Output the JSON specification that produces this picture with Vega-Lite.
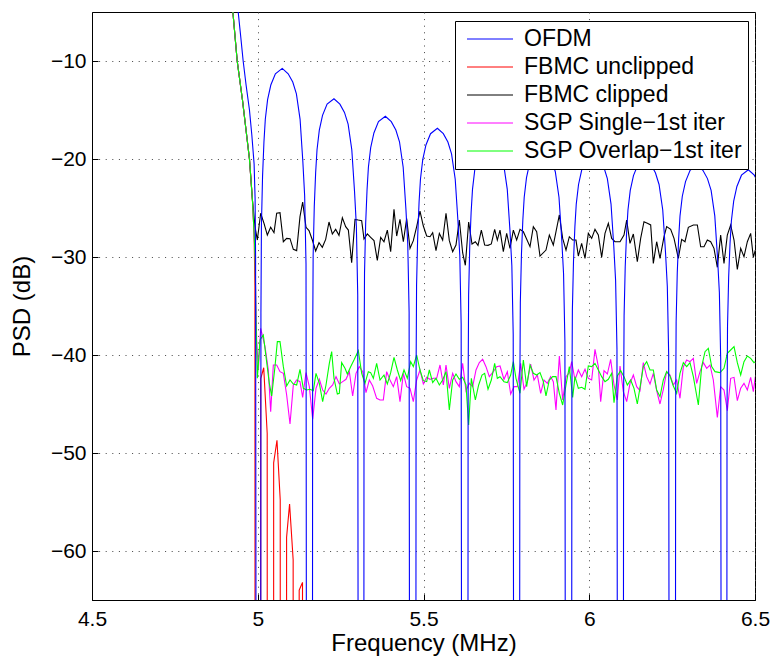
{
  "$schema": "https://vega.github.io/schema/vega-lite/v6.json",
  "autosize": {"type": "none"},
  "padding": {"left": 92, "top": 12, "right": 17, "bottom": 62},
  "width": 663,
  "height": 588,
  "background": "white",
  "config": {
    "view": {"stroke": "black", "strokeWidth": 1},
    "axis": {
      "labelFont": "Liberation Sans", "titleFont": "Liberation Sans",
      "labelFontSize": 21, "titleFontSize": 24, "titleFontWeight": "normal",
      "labelColor": "black", "titleColor": "black",
      "domainColor": "black", "tickColor": "black",
      "grid": true, "gridDash": [1, 5.6], "gridColor": "#444", "gridWidth": 1,
      "ticks": true, "tickSize": -6
    },
    "legend": {
      "orient": "none", "legendX": 363, "legendY": 9,
      "strokeColor": "black", "fillColor": "white", "padding": 6,
      "symbolType": "M-2,0H2", "symbolSize": 529, "symbolStrokeWidth": 1,
      "symbolOffset": 17,
      "labelFont": "Liberation Sans", "labelFontSize": 23, "labelColor": "black",
      "labelLimit": 400, "labelOffset": 22, "rowPadding": 4, "title": null
    }
  },
  "data": {"values": [
      {"s":"r","f":4.90,"p":3},{"s":"r","f":4.918,"p":-3},{"s":"r","f":4.925,"p":-5},{"s":"r","f":4.938,"p":-10},{"s":"r","f":4.954,"p":-14},{"s":"r","f":4.975,"p":-20},{"s":"r","f":4.984,"p":-24.2},{"s":"r","f":4.989,"p":-27.6},{"s":"r","f":4.9915,"p":-33},{"s":"r","f":4.992,"p":-90},
      {"s":"r","f":5.0088,"p":-90},{"s":"r","f":5.009,"p":-42.4},{"s":"r","f":5.018,"p":-41.3},{"s":"r","f":5.0285,"p":-48},{"s":"r","f":5.0288,"p":-90},
      {"s":"r","f":5.0478,"p":-90},{"s":"r","f":5.048,"p":-51},{"s":"r","f":5.058,"p":-48.7},{"s":"r","f":5.0678,"p":-54.8},{"s":"r","f":5.068,"p":-90},
      {"s":"r","f":5.0868,"p":-90},{"s":"r","f":5.087,"p":-58.6},{"s":"r","f":5.096,"p":-55.2},{"s":"r","f":5.1068,"p":-60.9},{"s":"r","f":5.107,"p":-90},
      {"s":"r","f":5.1248,"p":-90},{"s":"r","f":5.125,"p":-64},{"s":"r","f":5.135,"p":-63.2},{"s":"r","f":5.1352,"p":-90},

      {"s":"k","f":4.90,"p":3},{"s":"k","f":4.918,"p":-3},{"s":"k","f":4.925,"p":-5},{"s":"k","f":4.938,"p":-10},{"s":"k","f":4.954,"p":-14},{"s":"k","f":4.975,"p":-20},{"s":"k","f":4.984,"p":-24.2},
      {"s":"k","f":4.9917,"p":-26.9},{"s":"k","f":4.9988,"p":-28.27},{"s":"k","f":5.0088,"p":-25.54},{"s":"k","f":5.0189,"p":-26.56},{"s":"k","f":5.0289,"p":-27.76},{"s":"k","f":5.039,"p":-26.97},{"s":"k","f":5.049,"p":-27.52},{"s":"k","f":5.0571,"p":-25.54},{"s":"k","f":5.0671,"p":-25.48},{"s":"k","f":5.0772,"p":-28.44},{"s":"k","f":5.0872,"p":-28.1},{"s":"k","f":5.0973,"p":-28.13},{"s":"k","f":5.1073,"p":-29.22},{"s":"k","f":5.1174,"p":-29.35},{"s":"k","f":5.1274,"p":-25.88},{"s":"k","f":5.1355,"p":-24.39},{"s":"k","f":5.1456,"p":-26.97},{"s":"k","f":5.1546,"p":-27.31},{"s":"k","f":5.1647,"p":-28.27},{"s":"k","f":5.1747,"p":-29.39},{"s":"k","f":5.1848,"p":-28.54},{"s":"k","f":5.1948,"p":-29.01},{"s":"k","f":5.2049,"p":-28.2},{"s":"k","f":5.2149,"p":-26.43},{"s":"k","f":5.225,"p":-27.65},{"s":"k","f":5.235,"p":-27.18},{"s":"k","f":5.2451,"p":-27.79},{"s":"k","f":5.2552,"p":-25.99},{"s":"k","f":5.2652,"p":-26.9},{"s":"k","f":5.2733,"p":-27.25},{"s":"k","f":5.2833,"p":-30.58},{"s":"k","f":5.2934,"p":-26.16},{"s":"k","f":5.3034,"p":-26.23},{"s":"k","f":5.3135,"p":-26.29},{"s":"k","f":5.3205,"p":-28.16},{"s":"k","f":5.3306,"p":-27.65},{"s":"k","f":5.3406,"p":-27.99},{"s":"k","f":5.3507,"p":-28.33},{"s":"k","f":5.3607,"p":-30.34},{"s":"k","f":5.3708,"p":-27.99},{"s":"k","f":5.3808,"p":-28.44},{"s":"k","f":5.3909,"p":-27.25},{"s":"k","f":5.401,"p":-29.46},{"s":"k","f":5.411,"p":-25.14},{"s":"k","f":5.4191,"p":-27.86},{"s":"k","f":5.4291,"p":-26.16},{"s":"k","f":5.4392,"p":-28.44},{"s":"k","f":5.4492,"p":-26.09},{"s":"k","f":5.4593,"p":-29.12},{"s":"k","f":5.4693,"p":-28.33},{"s":"k","f":5.4794,"p":-26.9},{"s":"k","f":5.4894,"p":-25.31},{"s":"k","f":5.4995,"p":-26.84},{"s":"k","f":5.5096,"p":-27.86},{"s":"k","f":5.5196,"p":-27.93},{"s":"k","f":5.5277,"p":-27.52},{"s":"k","f":5.5377,"p":-29.35},{"s":"k","f":5.5478,"p":-27.59},{"s":"k","f":5.5578,"p":-28.27},{"s":"k","f":5.5679,"p":-25.54},{"s":"k","f":5.5779,"p":-28.33},{"s":"k","f":5.588,"p":-29.46},{"s":"k","f":5.598,"p":-28.78},{"s":"k","f":5.6081,"p":-26.23},{"s":"k","f":5.6181,"p":-29.56},{"s":"k","f":5.6262,"p":-30.85},{"s":"k","f":5.6362,"p":-26.43},{"s":"k","f":5.6463,"p":-28.67},{"s":"k","f":5.6564,"p":-28.44},{"s":"k","f":5.6644,"p":-28.81},{"s":"k","f":5.6745,"p":-27.25},{"s":"k","f":5.6845,"p":-28.78},{"s":"k","f":5.6946,"p":-28.81},{"s":"k","f":5.7046,"p":-28.67},{"s":"k","f":5.7147,"p":-27.18},{"s":"k","f":5.7227,"p":-28.27},{"s":"k","f":5.7308,"p":-27.25},
      {"s":"k","f":5.7408,"p":-29.46},{"s":"k","f":5.7509,"p":-27.59},{"s":"k","f":5.7609,"p":-29.12},{"s":"k","f":5.771,"p":-27.25},{"s":"k","f":5.781,"p":-28.27},{"s":"k","f":5.7911,"p":-27.18},{"s":"k","f":5.8012,"p":-27.42},{"s":"k","f":5.8213,"p":-28.95},{"s":"k","f":5.8313,"p":-26.9},{"s":"k","f":5.8414,"p":-27.42},{"s":"k","f":5.8514,"p":-29.9},{"s":"k","f":5.8695,"p":-29.29},{"s":"k","f":5.8796,"p":-27.76},{"s":"k","f":5.8916,"p":-28.78},{"s":"k","f":5.9098,"p":-25.71},{"s":"k","f":5.9198,"p":-28.1},{"s":"k","f":5.9299,"p":-29.29},{"s":"k","f":5.9399,"p":-27.93},{"s":"k","f":5.95,"p":-28.27},{"s":"k","f":5.96,"p":-28.27},{"s":"k","f":5.9671,"p":-29.9},{"s":"k","f":5.9771,"p":-28.61},{"s":"k","f":5.9872,"p":-30.14},{"s":"k","f":5.9972,"p":-27.59},{"s":"k","f":6.0073,"p":-28.1},{"s":"k","f":6.0173,"p":-27.18},{"s":"k","f":6.0274,"p":-27.76},{"s":"k","f":6.0375,"p":-30.03},{"s":"k","f":6.0475,"p":-27.59},{"s":"k","f":6.0576,"p":-26.56},{"s":"k","f":6.0676,"p":-28.1},{"s":"k","f":6.0777,"p":-28.44},{"s":"k","f":6.0928,"p":-28.44},{"s":"k","f":6.1048,"p":-27.76},{"s":"k","f":6.1129,"p":-26.23},{"s":"k","f":6.1229,"p":-28.61},{"s":"k","f":6.133,"p":-27.65},{"s":"k","f":6.145,"p":-30.48},{"s":"k","f":6.1551,"p":-28.1},{"s":"k","f":6.1651,"p":-26.4},{"s":"k","f":6.1752,"p":-26.56},{"s":"k","f":6.1853,"p":-26.73},{"s":"k","f":6.1933,"p":-30.65},{"s":"k","f":6.2034,"p":-28.44},{"s":"k","f":6.2134,"p":-30.14},{"s":"k","f":6.2255,"p":-27.93},{"s":"k","f":6.2335,"p":-26.9},{"s":"k","f":6.2456,"p":-27.18},{"s":"k","f":6.2557,"p":-28.1},{"s":"k","f":6.2687,"p":-30.14},{"s":"k","f":6.2788,"p":-28.2},{"s":"k","f":6.2888,"p":-28.44},{"s":"k","f":6.2989,"p":-26.97},{"s":"k","f":6.314,"p":-26.73},{"s":"k","f":6.3261,"p":-26.73},{"s":"k","f":6.3361,"p":-28.95},{"s":"k","f":6.3462,"p":-28.95},{"s":"k","f":6.3562,"p":-28.27},{"s":"k","f":6.3663,"p":-28.44},{"s":"k","f":6.3763,"p":-29.12},{"s":"k","f":6.3864,"p":-31.05},{"s":"k","f":6.3964,"p":-27.76},{"s":"k","f":6.4065,"p":-30.65},{"s":"k","f":6.4165,"p":-27.76},{"s":"k","f":6.4266,"p":-26.73},{"s":"k","f":6.4367,"p":-28.27},{"s":"k","f":6.4467,"p":-31.26},{"s":"k","f":6.4568,"p":-29.12},{"s":"k","f":6.4668,"p":-29.97},{"s":"k","f":6.4769,"p":-28.44},{"s":"k","f":6.4869,"p":-27.59},{"s":"k","f":6.495,"p":-30.03},{"s":"k","f":6.501,"p":-29.29},

      {"s":"m","f":4.90,"p":3},{"s":"m","f":4.918,"p":-3},{"s":"m","f":4.925,"p":-5},{"s":"m","f":4.938,"p":-10},{"s":"m","f":4.954,"p":-14},{"s":"m","f":4.975,"p":-20},{"s":"m","f":4.984,"p":-24.2},{"s":"m","f":4.989,"p":-27.6},{"s":"m","f":4.992,"p":-30},{"s":"m","f":4.994,"p":-34.4},{"s":"m","f":4.9967,"p":-38.5},{"s":"m","f":5.0018,"p":-41.5},
      {"s":"m","f":5.0088,"p":-37.28},{"s":"m","f":5.0219,"p":-39.15},{"s":"m","f":5.0319,"p":-41.53},{"s":"m","f":5.039,"p":-45.78},{"s":"m","f":5.047,"p":-41.02},{"s":"m","f":5.0571,"p":-41.02},{"s":"m","f":5.0671,"p":-41.7},{"s":"m","f":5.0772,"p":-41.87},{"s":"m","f":5.0872,"p":-44.08},{"s":"m","f":5.0973,"p":-47.04},{"s":"m","f":5.1073,"p":-43.06},{"s":"m","f":5.1174,"p":-42.55},{"s":"m","f":5.1274,"p":-42.72},{"s":"m","f":5.1355,"p":-44.32},{"s":"m","f":5.1456,"p":-41.8},{"s":"m","f":5.1556,"p":-43.23},{"s":"m","f":5.1657,"p":-46.56},{"s":"m","f":5.1757,"p":-43.4},{"s":"m","f":5.1858,"p":-42.48},{"s":"m","f":5.1958,"p":-43.57},{"s":"m","f":5.2059,"p":-43.98},{"s":"m","f":5.2159,"p":-43.4},{"s":"m","f":5.226,"p":-43.06},{"s":"m","f":5.2361,"p":-42.21},{"s":"m","f":5.2461,"p":-42.96},{"s":"m","f":5.2562,"p":-42.72},{"s":"m","f":5.2662,"p":-42.48},{"s":"m","f":5.2763,"p":-41.7},{"s":"m","f":5.2863,"p":-44.18},{"s":"m","f":5.2964,"p":-41.87},{"s":"m","f":5.3064,"p":-41.19},{"s":"m","f":5.3165,"p":-41.7},{"s":"m","f":5.3265,"p":-43.84},{"s":"m","f":5.3366,"p":-42.55},{"s":"m","f":5.3467,"p":-43.16},{"s":"m","f":5.3587,"p":-44.42},{"s":"m","f":5.3688,"p":-44.59},{"s":"m","f":5.3788,"p":-44.59},{"s":"m","f":5.3889,"p":-41.7},{"s":"m","f":5.3989,"p":-42.55},{"s":"m","f":5.409,"p":-43.23},{"s":"m","f":5.4191,"p":-42.21},{"s":"m","f":5.4291,"p":-44.76},{"s":"m","f":5.4392,"p":-41.87},{"s":"m","f":5.4492,"p":-43.23},{"s":"m","f":5.4593,"p":-43.4},{"s":"m","f":5.4693,"p":-44.76},{"s":"m","f":5.4794,"p":-42.55},{"s":"m","f":5.4894,"p":-41.53},{"s":"m","f":5.4995,"p":-42.96},{"s":"m","f":5.5096,"p":-42.28},{"s":"m","f":5.5196,"p":-42.48},{"s":"m","f":5.5297,"p":-42.38},{"s":"m","f":5.5397,"p":-42.38},{"s":"m","f":5.5498,"p":-41.02},{"s":"m","f":5.5598,"p":-43.06},{"s":"m","f":5.5679,"p":-41.02},{"s":"m","f":5.5779,"p":-43.4},{"s":"m","f":5.588,"p":-41.87},{"s":"m","f":5.598,"p":-42.72},{"s":"m","f":5.6081,"p":-43.23},{"s":"m","f":5.6181,"p":-40.85},{"s":"m","f":5.6282,"p":-43.64},{"s":"m","f":5.6383,"p":-42.89},{"s":"m","f":5.6483,"p":-43.23},{"s":"m","f":5.6584,"p":-41.53},{"s":"m","f":5.6684,"p":-40.78},{"s":"m","f":5.6785,"p":-40.44},{"s":"m","f":5.6885,"p":-41.19},{"s":"m","f":5.6986,"p":-42.21},{"s":"m","f":5.7107,"p":-41.7},{"s":"m","f":5.7207,"p":-41.19},{"s":"m","f":5.7308,"p":-41.12},
      {"s":"m","f":5.7428,"p":-42.48},{"s":"m","f":5.7529,"p":-41.7},{"s":"m","f":5.763,"p":-43.98},{"s":"m","f":5.773,"p":-43.23},{"s":"m","f":5.7831,"p":-43.23},{"s":"m","f":5.7931,"p":-40.85},{"s":"m","f":5.8032,"p":-43.5},{"s":"m","f":5.8132,"p":-42.72},{"s":"m","f":5.8233,"p":-40.92},{"s":"m","f":5.8333,"p":-42.55},{"s":"m","f":5.8434,"p":-42.04},{"s":"m","f":5.8535,"p":-43.91},{"s":"m","f":5.8635,"p":-42.55},{"s":"m","f":5.8736,"p":-42.89},{"s":"m","f":5.8836,"p":-42.21},{"s":"m","f":5.8917,"p":-42.72},{"s":"m","f":5.8997,"p":-45.61},{"s":"m","f":5.9098,"p":-40.1},{"s":"m","f":5.9198,"p":-44.59},{"s":"m","f":5.9299,"p":-42.21},{"s":"m","f":5.9399,"p":-41.8},{"s":"m","f":5.947,"p":-40.68},{"s":"m","f":5.957,"p":-42.55},{"s":"m","f":5.9671,"p":-41.53},{"s":"m","f":5.9771,"p":-42.21},{"s":"m","f":5.9872,"p":-41.46},{"s":"m","f":5.9972,"p":-42.38},{"s":"m","f":6.0073,"p":-42.55},{"s":"m","f":6.0173,"p":-39.42},{"s":"m","f":6.0274,"p":-41.19},{"s":"m","f":6.0345,"p":-44.76},{"s":"m","f":6.0445,"p":-41.6},{"s":"m","f":6.0546,"p":-41.94},{"s":"m","f":6.0646,"p":-40.44},{"s":"m","f":6.0747,"p":-43.06},{"s":"m","f":6.0847,"p":-44.59},{"s":"m","f":6.0928,"p":-41.12},{"s":"m","f":6.1028,"p":-43.74},{"s":"m","f":6.1129,"p":-44.76},{"s":"m","f":6.1229,"p":-42.89},{"s":"m","f":6.133,"p":-42.04},{"s":"m","f":6.1431,"p":-43.23},{"s":"m","f":6.1531,"p":-43.64},{"s":"m","f":6.1631,"p":-40.78},{"s":"m","f":6.1732,"p":-42.21},{"s":"m","f":6.1833,"p":-42.96},{"s":"m","f":6.1933,"p":-41.87},{"s":"m","f":6.2034,"p":-43.64},{"s":"m","f":6.2134,"p":-45.0},{"s":"m","f":6.2235,"p":-43.5},{"s":"m","f":6.2335,"p":-41.7},{"s":"m","f":6.2436,"p":-42.04},{"s":"m","f":6.2536,"p":-43.06},{"s":"m","f":6.2637,"p":-42.55},{"s":"m","f":6.2737,"p":-44.42},{"s":"m","f":6.2838,"p":-41.19},{"s":"m","f":6.2939,"p":-40.51},{"s":"m","f":6.3039,"p":-40.68},{"s":"m","f":6.314,"p":-40.34},{"s":"m","f":6.324,"p":-42.89},{"s":"m","f":6.3341,"p":-41.7},{"s":"m","f":6.3442,"p":-40.78},{"s":"m","f":6.3542,"p":-41.36},{"s":"m","f":6.3643,"p":-41.02},{"s":"m","f":6.3743,"p":-42.55},{"s":"m","f":6.3864,"p":-46.36},{"s":"m","f":6.3964,"p":-43.23},{"s":"m","f":6.4065,"p":-43.57},{"s":"m","f":6.4165,"p":-45.68},{"s":"m","f":6.4266,"p":-42.38},{"s":"m","f":6.4367,"p":-42.28},{"s":"m","f":6.4467,"p":-44.66},{"s":"m","f":6.4568,"p":-43.4},{"s":"m","f":6.4668,"p":-42.89},{"s":"m","f":6.4769,"p":-43.57},{"s":"m","f":6.4869,"p":-42.28},{"s":"m","f":6.495,"p":-43.74},{"s":"m","f":6.501,"p":-42.21},

      {"s":"g","f":4.90,"p":3},{"s":"g","f":4.918,"p":-3},{"s":"g","f":4.925,"p":-5},{"s":"g","f":4.938,"p":-10},{"s":"g","f":4.954,"p":-14},{"s":"g","f":4.975,"p":-20},{"s":"g","f":4.984,"p":-24.2},{"s":"g","f":4.989,"p":-27.6},{"s":"g","f":4.992,"p":-30},{"s":"g","f":4.9945,"p":-36},
      {"s":"g","f":4.9988,"p":-42.38},{"s":"g","f":5.0068,"p":-38.47},{"s":"g","f":5.0168,"p":-37.96},{"s":"g","f":5.0249,"p":-40.17},{"s":"g","f":5.0349,"p":-42.89},{"s":"g","f":5.042,"p":-44.18},{"s":"g","f":5.052,"p":-41.19},{"s":"g","f":5.0591,"p":-38.64},{"s":"g","f":5.0671,"p":-38.64},{"s":"g","f":5.0772,"p":-41.19},{"s":"g","f":5.0872,"p":-43.16},{"s":"g","f":5.0973,"p":-42.55},{"s":"g","f":5.1073,"p":-42.96},{"s":"g","f":5.1174,"p":-43.06},{"s":"g","f":5.1274,"p":-41.46},{"s":"g","f":5.1375,"p":-43.4},{"s":"g","f":5.1476,"p":-43.57},{"s":"g","f":5.1576,"p":-43.5},{"s":"g","f":5.1677,"p":-43.64},{"s":"g","f":5.1757,"p":-41.87},{"s":"g","f":5.1858,"p":-42.89},{"s":"g","f":5.1958,"p":-44.76},{"s":"g","f":5.2059,"p":-43.06},{"s":"g","f":5.2159,"p":-40.85},{"s":"g","f":5.223,"p":-39.66},{"s":"g","f":5.23,"p":-42.38},{"s":"g","f":5.2401,"p":-43.98},{"s":"g","f":5.2461,"p":-43.91},{"s":"g","f":5.2531,"p":-40.78},{"s":"g","f":5.2632,"p":-41.36},{"s":"g","f":5.2702,"p":-41.94},{"s":"g","f":5.2803,"p":-41.19},{"s":"g","f":5.2903,"p":-40.51},{"s":"g","f":5.3034,"p":-39.56},{"s":"g","f":5.3135,"p":-41.87},{"s":"g","f":5.3235,"p":-42.89},{"s":"g","f":5.3336,"p":-41.7},{"s":"g","f":5.3406,"p":-41.8},{"s":"g","f":5.3487,"p":-42.38},{"s":"g","f":5.3587,"p":-40.85},{"s":"g","f":5.3688,"p":-42.55},{"s":"g","f":5.3808,"p":-42.04},{"s":"g","f":5.3909,"p":-42.96},{"s":"g","f":5.401,"p":-41.8},{"s":"g","f":5.411,"p":-40.24},{"s":"g","f":5.4211,"p":-41.53},{"s":"g","f":5.4311,"p":-42.62},{"s":"g","f":5.4412,"p":-41.53},{"s":"g","f":5.4512,"p":-42.38},{"s":"g","f":5.4613,"p":-40.68},{"s":"g","f":5.4693,"p":-41.19},{"s":"g","f":5.4794,"p":-40.0},{"s":"g","f":5.4894,"p":-41.53},{"s":"g","f":5.4995,"p":-42.62},{"s":"g","f":5.5096,"p":-42.72},{"s":"g","f":5.5176,"p":-41.53},{"s":"g","f":5.5277,"p":-42.82},{"s":"g","f":5.5377,"p":-42.38},{"s":"g","f":5.5478,"p":-43.06},{"s":"g","f":5.5578,"p":-42.55},{"s":"g","f":5.5679,"p":-41.7},{"s":"g","f":5.5779,"p":-45.61},{"s":"g","f":5.588,"p":-42.55},{"s":"g","f":5.598,"p":-41.94},{"s":"g","f":5.6081,"p":-42.48},{"s":"g","f":5.6181,"p":-42.28},{"s":"g","f":5.6282,"p":-43.06},{"s":"g","f":5.6362,"p":-47.14},{"s":"g","f":5.6443,"p":-42.38},{"s":"g","f":5.6564,"p":-44.59},{"s":"g","f":5.6664,"p":-43.06},{"s":"g","f":5.6765,"p":-42.04},{"s":"g","f":5.6845,"p":-41.87},{"s":"g","f":5.6946,"p":-43.5},{"s":"g","f":5.7046,"p":-42.55},{"s":"g","f":5.7147,"p":-40.85},{"s":"g","f":5.7227,"p":-42.38},{"s":"g","f":5.7308,"p":-42.21},
      {"s":"g","f":5.7428,"p":-42.72},{"s":"g","f":5.7529,"p":-42.82},{"s":"g","f":5.763,"p":-42.04},{"s":"g","f":5.771,"p":-40.68},{"s":"g","f":5.779,"p":-42.38},{"s":"g","f":5.7911,"p":-43.91},{"s":"g","f":5.8012,"p":-40.51},{"s":"g","f":5.8112,"p":-43.23},{"s":"g","f":5.8213,"p":-41.02},{"s":"g","f":5.8313,"p":-41.87},{"s":"g","f":5.8414,"p":-42.04},{"s":"g","f":5.8514,"p":-41.8},{"s":"g","f":5.8615,"p":-42.72},{"s":"g","f":5.8695,"p":-44.18},{"s":"g","f":5.8796,"p":-42.55},{"s":"g","f":5.8896,"p":-42.21},{"s":"g","f":5.8997,"p":-42.21},{"s":"g","f":5.9098,"p":-43.91},{"s":"g","f":5.9198,"p":-45.1},{"s":"g","f":5.9299,"p":-43.06},{"s":"g","f":5.9399,"p":-41.19},{"s":"g","f":5.95,"p":-44.32},{"s":"g","f":5.957,"p":-42.21},{"s":"g","f":5.9671,"p":-43.4},{"s":"g","f":5.9771,"p":-43.3},{"s":"g","f":5.9872,"p":-43.5},{"s":"g","f":5.9972,"p":-41.12},{"s":"g","f":6.0073,"p":-41.19},{"s":"g","f":6.0173,"p":-40.85},{"s":"g","f":6.0274,"p":-41.53},{"s":"g","f":6.0375,"p":-42.21},{"s":"g","f":6.0475,"p":-42.72},{"s":"g","f":6.0576,"p":-42.48},{"s":"g","f":6.0676,"p":-41.87},{"s":"g","f":6.0747,"p":-44.86},{"s":"g","f":6.0847,"p":-42.14},{"s":"g","f":6.0948,"p":-41.6},{"s":"g","f":6.1048,"p":-42.21},{"s":"g","f":6.1149,"p":-43.06},{"s":"g","f":6.1249,"p":-42.55},{"s":"g","f":6.135,"p":-43.4},{"s":"g","f":6.145,"p":-45.0},{"s":"g","f":6.1551,"p":-42.89},{"s":"g","f":6.1631,"p":-41.19},{"s":"g","f":6.1732,"p":-40.68},{"s":"g","f":6.1833,"p":-41.53},{"s":"g","f":6.1933,"p":-41.53},{"s":"g","f":6.2034,"p":-43.57},{"s":"g","f":6.2134,"p":-44.25},{"s":"g","f":6.2235,"p":-42.55},{"s":"g","f":6.2335,"p":-41.7},{"s":"g","f":6.2436,"p":-42.14},{"s":"g","f":6.2536,"p":-43.16},{"s":"g","f":6.2637,"p":-43.91},{"s":"g","f":6.2737,"p":-41.87},{"s":"g","f":6.2838,"p":-40.78},{"s":"g","f":6.2939,"p":-41.19},{"s":"g","f":6.3039,"p":-40.78},{"s":"g","f":6.314,"p":-42.21},{"s":"g","f":6.3291,"p":-45.1},{"s":"g","f":6.3391,"p":-41.19},{"s":"g","f":6.3492,"p":-39.66},{"s":"g","f":6.3592,"p":-39.32},{"s":"g","f":6.3693,"p":-41.19},{"s":"g","f":6.3793,"p":-41.7},{"s":"g","f":6.3944,"p":-41.8},{"s":"g","f":6.4065,"p":-41.36},{"s":"g","f":6.4165,"p":-39.83},{"s":"g","f":6.4266,"p":-39.49},{"s":"g","f":6.4367,"p":-39.15},{"s":"g","f":6.4467,"p":-40.78},{"s":"g","f":6.4568,"p":-42.04},{"s":"g","f":6.4668,"p":-40.68},{"s":"g","f":6.4769,"p":-40.1},{"s":"g","f":6.4869,"p":-40.34},{"s":"g","f":6.497,"p":-40.78},{"s":"g","f":6.501,"p":-40.68},

      {"s":"b","f":4.90,"p":5},{"s":"b","f":4.92,"p":-1},{"s":"b","f":4.935,"p":-3.8},{"s":"b","f":4.941,"p":-5},{"s":"b","f":4.948,"p":-7.3},{"s":"b","f":4.956,"p":-10},{"s":"b","f":4.965,"p":-12.5},{"s":"b","f":4.975,"p":-15},{"s":"b","f":4.982,"p":-17.5},{"s":"b","f":4.989,"p":-20.5},{"s":"b","f":4.992,"p":-24},{"s":"b","f":4.9935,"p":-30},{"s":"b","f":4.995,"p":-80},{"s":"b","f":5.002,"p":-100},
      {"s":"b","f":5.009,"p":-80},{"s":"b","f":5.0096,"p":-35.75},{"s":"b","f":5.0111,"p":-26.75},{"s":"b","f":5.0145,"p":-21.75},{"s":"b","f":5.0187,"p":-18.25},{"s":"b","f":5.0228,"p":-15.95},{"s":"b","f":5.0297,"p":-13.95},{"s":"b","f":5.0394,"p":-12.45},{"s":"b","f":5.0532,"p":-11.3},{"s":"b","f":5.0739,"p":-10.75},{"s":"b","f":5.0918,"p":-11.3},{"s":"b","f":5.1056,"p":-12.15},{"s":"b","f":5.1166,"p":-13.35},{"s":"b","f":5.1277,"p":-15.95},{"s":"b","f":5.136,"p":-20.25},{"s":"b","f":5.1415,"p":-23.75},{"s":"b","f":5.1456,"p":-30.75},{"s":"b","f":5.147,"p":-80},
      {"s":"b","f":5.165,"p":-80},{"s":"b","f":5.1656,"p":-38.85},{"s":"b","f":5.1671,"p":-29.85},{"s":"b","f":5.1705,"p":-24.85},{"s":"b","f":5.1747,"p":-21.35},{"s":"b","f":5.1788,"p":-19.05},{"s":"b","f":5.1857,"p":-17.05},{"s":"b","f":5.1954,"p":-15.55},{"s":"b","f":5.2092,"p":-14.4},{"s":"b","f":5.2299,"p":-13.85},{"s":"b","f":5.2478,"p":-14.4},{"s":"b","f":5.2616,"p":-15.25},{"s":"b","f":5.2726,"p":-16.45},{"s":"b","f":5.2837,"p":-19.05},{"s":"b","f":5.292,"p":-23.35},{"s":"b","f":5.2975,"p":-26.85},{"s":"b","f":5.3016,"p":-33.85},{"s":"b","f":5.303,"p":-80},
      {"s":"b","f":5.32,"p":-80},{"s":"b","f":5.3206,"p":-40.64},{"s":"b","f":5.3221,"p":-31.64},{"s":"b","f":5.3255,"p":-26.64},{"s":"b","f":5.3297,"p":-23.14},{"s":"b","f":5.3338,"p":-20.84},{"s":"b","f":5.3407,"p":-18.84},{"s":"b","f":5.3504,"p":-17.34},{"s":"b","f":5.3642,"p":-16.19},{"s":"b","f":5.3849,"p":-15.64},{"s":"b","f":5.4028,"p":-16.19},{"s":"b","f":5.4166,"p":-17.04},{"s":"b","f":5.4276,"p":-18.24},{"s":"b","f":5.4387,"p":-20.84},{"s":"b","f":5.447,"p":-25.14},{"s":"b","f":5.4525,"p":-28.64},{"s":"b","f":5.4566,"p":-35.64},{"s":"b","f":5.458,"p":-80},
      {"s":"b","f":5.477,"p":-80},{"s":"b","f":5.4776,"p":-41.87},{"s":"b","f":5.4791,"p":-32.87},{"s":"b","f":5.4825,"p":-27.87},{"s":"b","f":5.4867,"p":-24.37},{"s":"b","f":5.4908,"p":-22.07},{"s":"b","f":5.4977,"p":-20.07},{"s":"b","f":5.5074,"p":-18.57},{"s":"b","f":5.5212,"p":-17.42},{"s":"b","f":5.5419,"p":-16.87},{"s":"b","f":5.5598,"p":-17.42},{"s":"b","f":5.5736,"p":-18.27},{"s":"b","f":5.5846,"p":-19.47},{"s":"b","f":5.5957,"p":-22.07},{"s":"b","f":5.604,"p":-26.37},{"s":"b","f":5.6095,"p":-29.87},{"s":"b","f":5.6136,"p":-36.87},{"s":"b","f":5.615,"p":-80},
      {"s":"b","f":5.634,"p":-80},{"s":"b","f":5.6346,"p":-42.9},{"s":"b","f":5.6361,"p":-33.9},{"s":"b","f":5.6395,"p":-28.9},{"s":"b","f":5.6437,"p":-25.4},{"s":"b","f":5.6478,"p":-23.1},{"s":"b","f":5.6547,"p":-21.1},{"s":"b","f":5.6644,"p":-19.6},{"s":"b","f":5.6782,"p":-18.45},{"s":"b","f":5.6989,"p":-17.9},{"s":"b","f":5.7168,"p":-18.45},{"s":"b","f":5.7306,"p":-19.3},{"s":"b","f":5.7416,"p":-20.5},{"s":"b","f":5.7527,"p":-23.1},{"s":"b","f":5.761,"p":-27.4},{"s":"b","f":5.7665,"p":-30.9},{"s":"b","f":5.7706,"p":-37.9},{"s":"b","f":5.772,"p":-80},
      {"s":"b","f":5.79,"p":-80},{"s":"b","f":5.7906,"p":-43.7},{"s":"b","f":5.7921,"p":-34.7},{"s":"b","f":5.7955,"p":-29.7},{"s":"b","f":5.7997,"p":-26.2},{"s":"b","f":5.8038,"p":-23.9},{"s":"b","f":5.8107,"p":-21.9},{"s":"b","f":5.8204,"p":-20.4},{"s":"b","f":5.8342,"p":-19.25},{"s":"b","f":5.8549,"p":-18.7},{"s":"b","f":5.8728,"p":-19.25},{"s":"b","f":5.8866,"p":-20.1},{"s":"b","f":5.8976,"p":-21.3},{"s":"b","f":5.9087,"p":-23.9},{"s":"b","f":5.917,"p":-28.2},{"s":"b","f":5.9225,"p":-31.7},{"s":"b","f":5.9266,"p":-38.7},{"s":"b","f":5.928,"p":-80},
      {"s":"b","f":5.947,"p":-80},{"s":"b","f":5.9476,"p":-44.4},{"s":"b","f":5.9491,"p":-35.4},{"s":"b","f":5.9525,"p":-30.4},{"s":"b","f":5.9567,"p":-26.9},{"s":"b","f":5.9608,"p":-24.6},{"s":"b","f":5.9677,"p":-22.6},{"s":"b","f":5.9774,"p":-21.1},{"s":"b","f":5.9912,"p":-19.95},{"s":"b","f":6.0119,"p":-19.4},{"s":"b","f":6.0298,"p":-19.95},{"s":"b","f":6.0436,"p":-20.8},{"s":"b","f":6.0546,"p":-22.0},{"s":"b","f":6.0657,"p":-24.6},{"s":"b","f":6.074,"p":-28.9},{"s":"b","f":6.0795,"p":-32.4},{"s":"b","f":6.0836,"p":-39.4},{"s":"b","f":6.085,"p":-80},
      {"s":"b","f":6.103,"p":-80},{"s":"b","f":6.1036,"p":-45},{"s":"b","f":6.1051,"p":-36},{"s":"b","f":6.1085,"p":-31},{"s":"b","f":6.1127,"p":-27.5},{"s":"b","f":6.1168,"p":-25.2},{"s":"b","f":6.1237,"p":-23.2},{"s":"b","f":6.1334,"p":-21.7},{"s":"b","f":6.1472,"p":-20.55},{"s":"b","f":6.1679,"p":-20},{"s":"b","f":6.1858,"p":-20.55},{"s":"b","f":6.1996,"p":-21.4},{"s":"b","f":6.2106,"p":-22.6},{"s":"b","f":6.2217,"p":-25.2},{"s":"b","f":6.23,"p":-29.5},{"s":"b","f":6.2355,"p":-33},{"s":"b","f":6.2396,"p":-40},{"s":"b","f":6.241,"p":-80},
      {"s":"b","f":6.26,"p":-80},{"s":"b","f":6.2606,"p":-45.6},{"s":"b","f":6.2621,"p":-36.6},{"s":"b","f":6.2655,"p":-31.6},{"s":"b","f":6.2697,"p":-28.1},{"s":"b","f":6.2738,"p":-25.8},{"s":"b","f":6.2807,"p":-23.8},{"s":"b","f":6.2904,"p":-22.3},{"s":"b","f":6.3042,"p":-21.15},{"s":"b","f":6.3249,"p":-20.6},{"s":"b","f":6.3428,"p":-21.15},{"s":"b","f":6.3566,"p":-22.0},{"s":"b","f":6.3676,"p":-23.2},{"s":"b","f":6.3787,"p":-25.8},{"s":"b","f":6.387,"p":-30.1},{"s":"b","f":6.3925,"p":-33.6},{"s":"b","f":6.3966,"p":-40.6},{"s":"b","f":6.398,"p":-80},
      {"s":"b","f":6.415,"p":-80},{"s":"b","f":6.4156,"p":-46.1},{"s":"b","f":6.4171,"p":-37.1},{"s":"b","f":6.4205,"p":-32.1},{"s":"b","f":6.4247,"p":-28.6},{"s":"b","f":6.4288,"p":-26.3},{"s":"b","f":6.4357,"p":-24.3},{"s":"b","f":6.4454,"p":-22.8},{"s":"b","f":6.4592,"p":-21.65},{"s":"b","f":6.4799,"p":-21.1},{"s":"b","f":6.4978,"p":-21.65},{"s":"b","f":6.5116,"p":-22.5}
  ]},
  "mark": {"type": "line", "clip": true, "strokeWidth": 1.1},
  "encoding": {
    "x": {"field": "f", "type": "quantitative",
      "scale": {"domain": [4.5, 6.5], "nice": false, "zero": false},
      "axis": {"values": [4.5, 5, 5.5, 6, 6.5], "format": "~g", "title": "Frequency (MHz)", "labelPadding": 14, "titlePadding": 2, "labelFlush": false}},
    "y": {"field": "p", "type": "quantitative",
      "scale": {"domain": [-65, -5], "nice": false, "zero": false},
      "axis": {"values": [-60, -50, -40, -30, -20, -10], "format": "d", "title": "PSD (dB)", "labelPadding": 12, "titlePadding": 16, "labelFlush": false}},
    "color": {"field": "s", "type": "nominal",
      "scale": {"domain": ["b", "r", "k", "m", "g"], "range": ["#0000ff", "#ff0000", "#000000", "#ff00ff", "#00ff00"]},
      "legend": {"labelExpr": "{'b': 'OFDM', 'r': 'FBMC unclipped', 'k': 'FBMC clipped', 'm': 'SGP Single−1st iter', 'g': 'SGP Overlap−1st iter'}[datum.value]"}},
    "order": {"value": null}
  }
}
